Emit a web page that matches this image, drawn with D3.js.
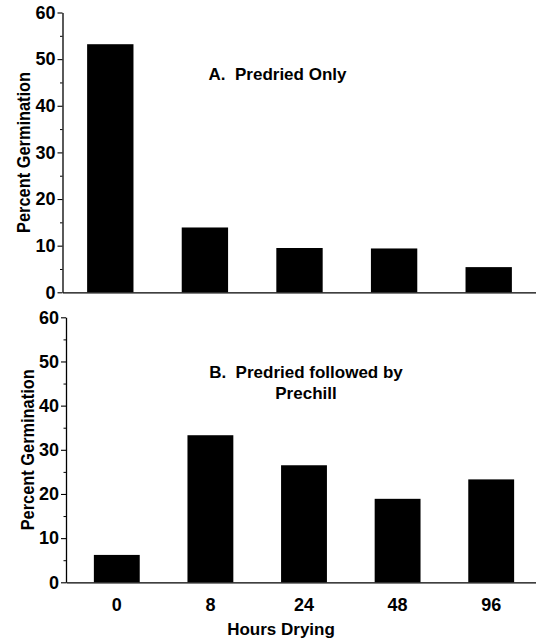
<!DOCTYPE html>
<html>
<head>
<meta charset="utf-8">
<script src="https://cdn.jsdelivr.net/npm/d3@7"></script>
<style>
  html, body { margin: 0; padding: 0; background: #fff; }
  svg { display: block; }
  text { font-family: "Liberation Sans", Arial, Helvetica, sans-serif; font-weight: bold; fill: #000; }
</style>
</head>
<body>
<svg id="chart" width="536" height="643"></svg>
<script>
// ---- data ----
const hours = ["0", "8", "24", "48", "96"];
const predriedOnly = [53.2, 13.9, 9.5, 9.4, 5.4];
const predriedPrechill = [6.2, 33.3, 26.5, 18.9, 23.3];
const yTicks = [0, 10, 20, 30, 40, 50, 60];
const yMinorTicks = [5, 15, 25, 35, 45, 55];
const panelTitles = [["A.  Predried Only"], ["B.  Predried followed by", "Prechill"]];
const yLabel = "Percent Germination";
const xLabel = "Hours Drying";

// ---- layout ----
const svg = d3.select("#chart");

const panels = [
  { values: predriedOnly, axisX: 62.5, xRange: [63, 536], lineEnd: 536, yRange: [292.3, 12.5],
    title: panelTitles[0], titleX: 277.5, titleY: 80, labelX: 30, showX: false },
  { values: predriedPrechill, axisX: 66, xRange: [70, 538], lineEnd: 538, yRange: [582.3, 317.3],
    title: panelTitles[1], titleX: 306, titleY: 378, labelX: 33.5, showX: true }
];

panels.forEach(p => {
  const x = d3.scaleBand().domain(hours).range(p.xRange).paddingInner(0.51).paddingOuter(0.255);
  const y = d3.scaleLinear().domain([0, 60]).range(p.yRange);
  const g = svg.append("g");

  // bars
  g.selectAll("rect.bar").data(p.values).enter().append("rect")
    .attr("class", "bar")
    .attr("x", (d, i) => x(hours[i]))
    .attr("width", x.bandwidth())
    .attr("y", d => y(d))
    .attr("height", d => y(0) - y(d))
    .attr("fill", "#000");

  // y minor ticks
  const yMinor = g.append("g").attr("transform", `translate(${p.axisX},0)`)
    .call(d3.axisLeft(y).tickValues(yMinorTicks).tickSize(2.5).tickFormat(""));
  yMinor.select(".domain").remove();
  yMinor.selectAll("line").attr("stroke", "#000").attr("stroke-width", 1);

  // y axis
  const yAx = g.append("g").attr("transform", `translate(${p.axisX},0)`)
    .call(d3.axisLeft(y).tickValues(yTicks).tickSize(5).tickSizeOuter(0).tickPadding(2));
  yAx.select(".domain").attr("stroke", "#000").attr("stroke-width", 1.3);
  yAx.selectAll("line").attr("stroke", "#000").attr("stroke-width", 1.1);
  yAx.selectAll("text").attr("font-size", 18).attr("font-weight", "bold")
    .attr("font-family", "'Liberation Sans', Arial, sans-serif").attr("fill", "#000");

  // x axis baseline
  const xAx = g.append("g").attr("transform", `translate(0,${y(0)})`)
    .call(d3.axisBottom(d3.scaleLinear().domain([0, 1]).range([p.axisX, p.lineEnd]))
      .tickValues([]).tickSizeOuter(0));
  xAx.select(".domain").attr("stroke", "#000").attr("stroke-width", 1.3);

  if (p.showX) {
    const xT = g.append("g").attr("transform", `translate(0,${y(0)})`)
      .call(d3.axisBottom(x).tickSize(0).tickPadding(16));
    xT.select(".domain").remove();
    xT.selectAll("text").attr("font-size", 18).attr("font-weight", "bold")
      .attr("font-family", "'Liberation Sans', Arial, sans-serif").attr("fill", "#000");
  }

  // panel title
  p.title.forEach((line, i) => {
    g.append("text")
      .attr("x", p.titleX)
      .attr("y", p.titleY + i * 20.5)
      .attr("text-anchor", "middle")
      .attr("font-size", 17)
      .style("white-space", "pre")
      .attr("xml:space", "preserve")
      .text(line);
  });

  // y label
  const cy = (p.yRange[0] + p.yRange[1]) / 2;
  g.append("text")
    .attr("transform", `translate(${p.labelX},${cy}) rotate(-90)`)
    .attr("text-anchor", "middle")
    .attr("font-size", 18)
    .attr("textLength", 161)
    .attr("lengthAdjust", "spacingAndGlyphs")
    .text(yLabel);
});

// x label
svg.append("text")
  .attr("x", 281)
  .attr("y", 635)
  .attr("text-anchor", "middle")
  .attr("font-size", 17)
  .text(xLabel);
</script>
</body>
</html>
